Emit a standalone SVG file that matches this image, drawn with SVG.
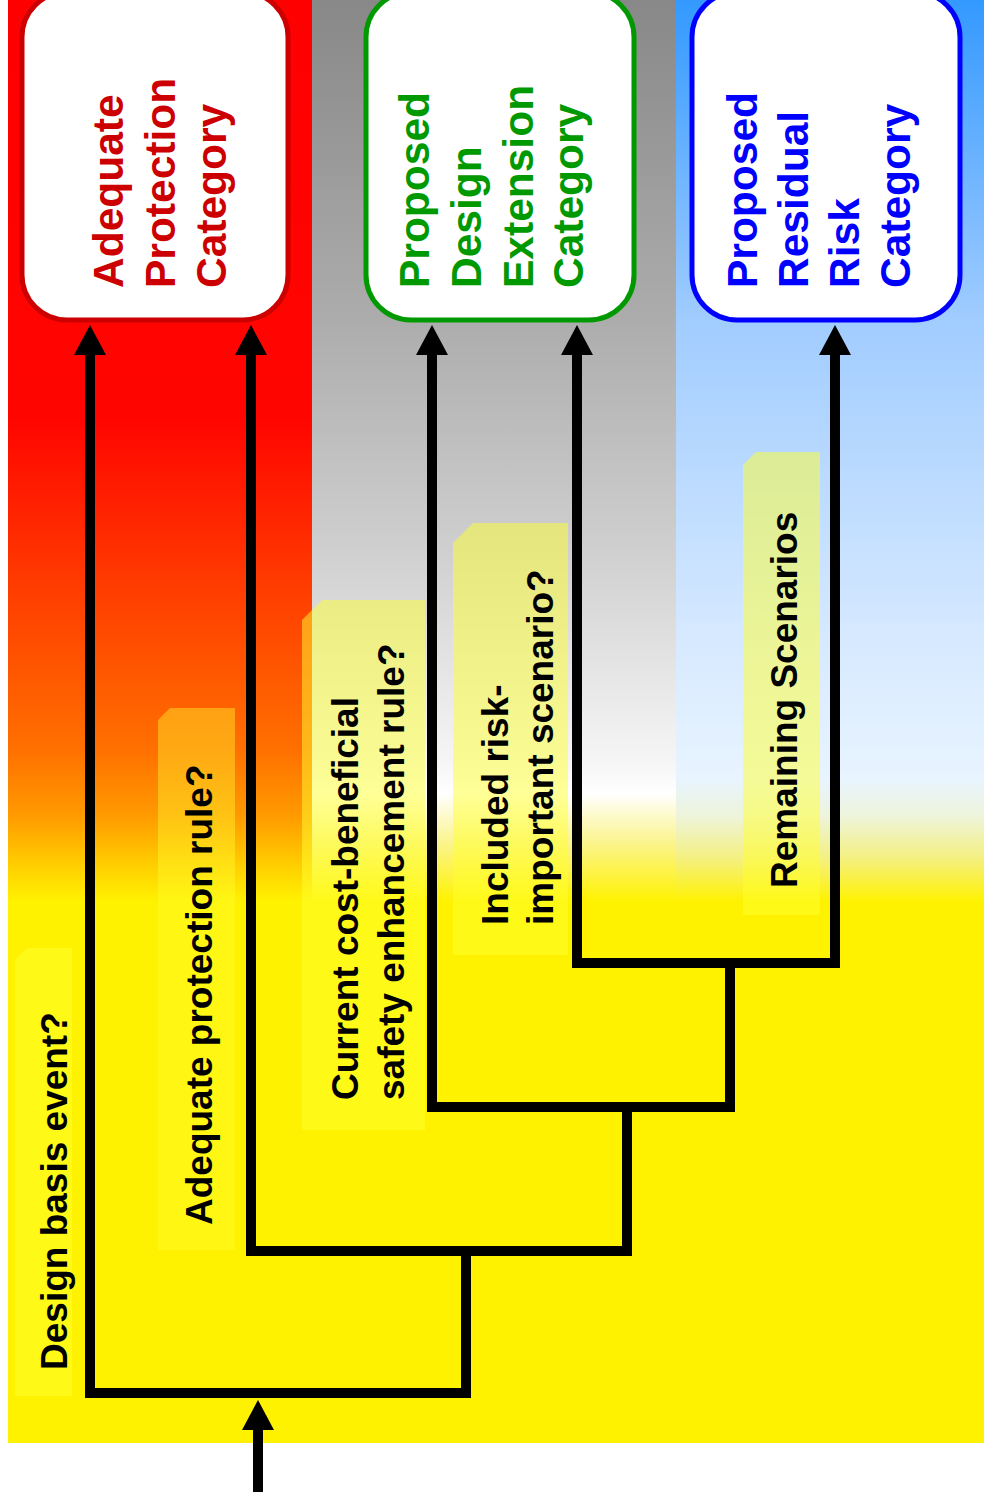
<svg xmlns="http://www.w3.org/2000/svg" width="984" height="1502" viewBox="0 0 984 1502">
<style>
.title{font-family:"Liberation Sans",Arial,sans-serif;font-weight:bold;font-size:42.5px}
.lbl{font-family:"Liberation Sans",Arial,sans-serif;font-weight:bold;font-size:37px;fill:#000}
.note{fill:#ffff30;fill-opacity:0.5}
.conn{fill:none;stroke:#000;stroke-width:10;stroke-linejoin:miter;stroke-linecap:butt}
</style>
<defs>
<linearGradient id="gRed" gradientUnits="userSpaceOnUse" x1="0" y1="0" x2="0" y2="1443">
<stop offset="0" stop-color="#ff0000"/>
<stop offset="0.29" stop-color="#ff0500"/>
<stop offset="0.42" stop-color="#ff4200"/>
<stop offset="0.52" stop-color="#ff7000"/>
<stop offset="0.565" stop-color="#ff9a00"/>
<stop offset="0.6" stop-color="#ffcf00"/>
<stop offset="0.625" stop-color="#fff200"/>
<stop offset="1" stop-color="#fff200"/>
</linearGradient>
<linearGradient id="gGray" gradientUnits="userSpaceOnUse" x1="0" y1="0" x2="0" y2="1443">
<stop offset="0" stop-color="#888888"/>
<stop offset="0.22" stop-color="#acacac"/>
<stop offset="0.38" stop-color="#cfcfcf"/>
<stop offset="0.53" stop-color="#f6f6f6"/>
<stop offset="0.55" stop-color="#ffffff"/>
<stop offset="0.585" stop-color="#fbf48a"/>
<stop offset="0.625" stop-color="#fff200"/>
<stop offset="1" stop-color="#fff200"/>
</linearGradient>
<linearGradient id="gBlue" gradientUnits="userSpaceOnUse" x1="0" y1="0" x2="0" y2="1443">
<stop offset="0" stop-color="#3399ff"/>
<stop offset="0.22" stop-color="#a0ccff"/>
<stop offset="0.45" stop-color="#d8eaff"/>
<stop offset="0.54" stop-color="#e8f4ff"/>
<stop offset="0.565" stop-color="#eef4dc"/>
<stop offset="0.595" stop-color="#f4f080"/>
<stop offset="0.625" stop-color="#fff200"/>
<stop offset="1" stop-color="#fff200"/>
</linearGradient>
<marker id="ah" markerUnits="userSpaceOnUse" markerWidth="30" markerHeight="32" viewBox="0 0 30 32" refX="5" refY="16" orient="auto">
<path d="M0,0 L30,16 L0,32 z" fill="#000"/>
</marker>
</defs>

<g id="background">
<rect x="8" y="0" width="304" height="1443" fill="url(#gRed)"/>
<rect x="312" y="0" width="364" height="1443" fill="url(#gGray)"/>
<rect x="676" y="0" width="308" height="1443" fill="url(#gBlue)"/>
</g>

<g id="node-adequate-protection">
<rect x="22" y="-8" width="266" height="328" rx="45" ry="45" fill="#fff" stroke="#cc0000" stroke-width="5"/>
<text class="title" fill="#cc0000" transform="translate(123,288) rotate(-90)">Adequate</text>
<text class="title" fill="#cc0000" transform="translate(175,288) rotate(-90)">Protection</text>
<text class="title" fill="#cc0000" transform="translate(226,288) rotate(-90)">Category</text>
</g>

<g id="node-design-extension">
<rect x="366" y="-8" width="268" height="328" rx="45" ry="45" fill="#fff" stroke="#009900" stroke-width="5"/>
<text class="title" fill="#009900" transform="translate(429,288) rotate(-90)">Proposed</text>
<text class="title" fill="#009900" transform="translate(481,288) rotate(-90)">Design</text>
<text class="title" fill="#009900" transform="translate(533,288) rotate(-90)">Extension</text>
<text class="title" fill="#009900" transform="translate(583,288) rotate(-90)">Category</text>
</g>

<g id="node-residual-risk">
<rect x="692" y="-8" width="268" height="328" rx="45" ry="45" fill="#fff" stroke="#0000ff" stroke-width="5"/>
<text class="title" fill="#0000ff" transform="translate(757,288) rotate(-90)">Proposed</text>
<text class="title" fill="#0000ff" transform="translate(808,288) rotate(-90)">Residual</text>
<text class="title" fill="#0000ff" transform="translate(859,288) rotate(-90)">Risk</text>
<text class="title" fill="#0000ff" transform="translate(910,288) rotate(-90)">Category</text>
</g>

<g id="label-design-basis">
<path class="note" d="M15,960 L27,948 H72 V1396 H15 Z"/>
<text class="lbl" transform="translate(67,1370) rotate(-90)">Design basis event?</text>
</g>

<g id="label-adequate-rule">
<path class="note" d="M158,720 L170,708 H235 V1250 H158 Z" style="fill-opacity:0.4"/>
<text class="lbl" transform="translate(212,1225) rotate(-90)">Adequate protection rule?</text>
</g>

<g id="label-cost-beneficial">
<path class="note" d="M302,620 L322,600 H425 V1130 H302 Z"/>
<text class="lbl" transform="translate(358,1100) rotate(-90)">Current cost-beneficial</text>
<text class="lbl" transform="translate(404,1100) rotate(-90)">safety enhancement rule?</text>
</g>

<g id="label-risk-important">
<path class="note" d="M453,543 L473,523 H568 V955 H453 Z"/>
<text class="lbl" transform="translate(508,925) rotate(-90)">Included risk-</text>
<text class="lbl" transform="translate(553,925) rotate(-90)">important scenario?</text>
</g>

<g id="label-remaining">
<path class="note" d="M743,465 L756,452 H820 V915 H743 Z"/>
<text class="lbl" transform="translate(797,888) rotate(-90)">Remaining Scenarios</text>
</g>

<g id="connectors">
<path class="conn" d="M258,1492 V1425" marker-end="url(#ah)"/>
<path class="conn" d="M466,1251 V1393 H90 V350" marker-end="url(#ah)"/>
<path class="conn" d="M627,1107 V1251 H251 V350" marker-end="url(#ah)"/>
<path class="conn" d="M730,963 V1107 H432 V350" marker-end="url(#ah)"/>
<path class="conn" d="M835,963 V350" marker-end="url(#ah)"/>
<path class="conn" d="M840,963 H577 V350" marker-end="url(#ah)"/>
</g>
</svg>
